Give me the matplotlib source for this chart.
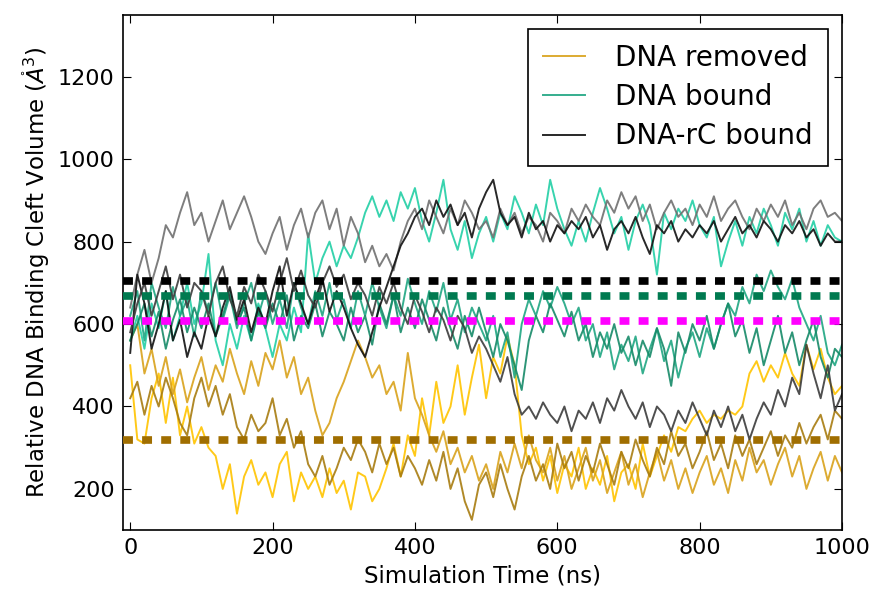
import numpy as np
import matplotlib
matplotlib.use("Agg")
import matplotlib.pyplot as plt

# time axis (ns), one sample every 10 ns
time_ns = np.arange(0, 1001, 10)

# DNA removed replicas
removed_yellow = [
    500, 320, 310, 420, 480, 360, 470, 330, 400, 310,
    350, 300, 280, 200, 260, 140, 230, 270, 210, 240,
    180, 260, 290, 170, 240, 200, 230, 180, 250, 190,
    220, 150, 240, 230, 170, 200, 250, 310, 230, 330,
    280, 420, 330, 460, 360, 400, 500, 380, 470, 550,
    420, 520, 480, 570, 500, 330, 260, 300, 220, 280,
    190, 260, 230, 300, 200, 250, 210, 280, 170, 240,
    260, 200, 310, 230, 280, 330, 290, 350, 340, 370,
    390, 360, 380, 370, 390, 380, 400, 480, 510, 460,
    500, 470, 530, 480, 450, 550, 490, 540, 470, 430, 450]
removed_gold = [
    560, 600, 480, 540, 450, 520, 430, 490, 410, 470,
    520, 440, 500, 460, 540, 480, 430, 510, 450, 530,
    490, 560, 470, 520, 430, 470, 390, 330, 360, 420,
    460, 510, 560, 520, 470, 500, 430, 460, 390, 530,
    420, 380, 330, 290, 340, 260, 300, 240, 280, 220,
    260, 200, 290, 240, 310, 250, 330, 270, 240, 300,
    220, 280, 200, 250, 300, 220, 270, 190, 240, 290,
    210, 260, 180, 240, 290, 220, 270, 200, 250, 190,
    240, 280, 210, 250, 190, 270, 220, 300, 240, 270,
    210, 260, 300, 230, 280, 200, 250, 290, 220, 280, 240]
removed_brown = [
    420, 460, 380, 450, 400, 470, 420, 360, 330, 420,
    470, 400, 450, 380, 430, 350, 320, 380, 340, 360,
    420, 330, 370, 300, 340, 260, 230, 280, 210, 250,
    300, 270, 320, 290, 240, 310, 260, 300, 230, 280,
    250, 210, 270, 220, 290, 200, 250, 170, 125, 210,
    240, 180, 260, 200, 150, 230, 280, 220, 260, 200,
    310, 250, 290, 220, 280, 240, 310, 260, 210, 290,
    250, 320, 270, 230, 300, 260, 340, 280, 310, 250,
    290, 340, 270, 310, 250, 330, 280, 320, 260, 300,
    340, 280, 330, 300, 360, 310, 350, 380, 320, 390, 370]

# DNA bound replicas
bound_turq = [
    560, 620, 540, 650, 590, 680, 560, 620, 700, 600,
    650, 770, 560, 500, 600, 540, 620, 560, 650, 590,
    520, 600, 560, 640, 580, 820, 700, 760, 800, 740,
    790, 760, 810, 870, 910, 860, 900, 850, 920, 880,
    930, 850, 800, 870, 950, 830, 780, 850, 760, 820,
    860, 800, 870, 830, 910, 870, 820, 890, 840, 950,
    880, 830, 790, 850, 800, 870, 930, 880, 820, 860,
    780, 850, 890, 840, 720, 870, 830, 880, 850, 900,
    840, 810, 860, 740, 800, 850, 790, 860, 820, 880,
    840, 790, 870, 830, 880, 800, 850, 790, 840, 810, 800]
bound_teal = [
    620, 680, 560, 700, 640, 590, 690, 620, 660, 570,
    680, 630, 700, 610, 670, 590, 650, 700, 620, 680,
    600, 660, 590, 700, 640, 600, 680, 620, 700, 610,
    660, 590, 680, 620, 700, 640, 590, 670, 620, 710,
    650, 600, 680, 630, 700, 610, 660, 580, 640, 600,
    560, 620, 520, 580, 470, 600, 660, 620, 680, 640,
    690, 650, 600, 640, 560, 600, 520, 580, 490, 550,
    510, 570, 480, 540, 590, 510, 560, 470, 540, 580,
    520, 590, 540, 600, 650, 620, 690, 650, 720, 680,
    730, 690, 660, 710, 640, 600, 560, 620, 530, 500, 550]
bound_dark = [
    560, 600, 650, 570, 630, 540, 610, 660, 580, 640,
    590, 650, 570, 620, 680, 600, 640, 560, 630, 590,
    650, 600, 670, 560, 620, 590, 650, 570, 630, 600,
    560, 640, 580, 620, 550, 650, 600, 670, 580, 640,
    590, 660, 610, 560, 640, 590, 540, 620, 570, 640,
    580, 520, 600, 560, 500, 440, 560, 620, 580, 650,
    610, 570, 630, 560, 600, 520, 580, 540, 600, 530,
    570, 500, 560, 520, 590, 540, 450, 580, 530, 600,
    560, 620, 540, 600, 650, 570, 610, 530, 590, 500,
    560, 620, 530, 580, 500, 560, 610, 520, 470, 540, 520]

# DNA-rC bound replicas
rc_gray = [
    640, 720, 780, 700, 760, 840, 810, 870, 920, 840,
    870, 800, 850, 900, 830, 870, 910, 860, 800, 770,
    820, 860, 780, 840, 880, 810, 870, 900, 830, 880,
    790, 860, 820, 750, 790, 740, 770, 730, 800, 850,
    880, 830, 900, 860, 820, 880, 840, 900, 870, 830,
    850, 810, 880, 840, 870, 820, 860, 840, 800, 870,
    850, 820, 880, 850, 890, 860, 840, 900, 870, 920,
    880, 910, 850, 890, 830, 870, 900, 860, 880, 840,
    890, 860, 910, 850, 880, 900, 860, 830, 880, 850,
    890, 860, 900, 840, 870, 830, 880, 900, 860, 870, 850]
rc_black = [
    530, 720, 650, 540, 600, 680, 560, 610, 520, 580,
    540, 620, 570, 640, 690, 610, 660, 580, 640, 600,
    680, 740, 620, 700, 650, 600, 660, 710, 630, 680,
    640, 590, 550, 520, 580, 640, 690, 740, 790, 820,
    860, 880, 840, 900, 860, 890, 840, 870, 810, 880,
    920, 950, 870, 840, 860, 810, 870, 830, 850, 800,
    840, 820, 850, 830, 860, 810, 840, 780, 830, 850,
    820, 860, 810, 770, 840, 820, 850, 800, 830, 810,
    840, 820, 850, 800, 830, 860, 820, 840, 810, 850,
    830, 800, 840, 820, 850, 810, 830, 790, 820, 800, 800]
rc_dark = [
    580, 650, 700, 620, 680, 740, 660, 720, 640, 700,
    680, 620, 700, 740, 660, 620, 690, 650, 720, 680,
    630, 700, 760, 680, 730, 670, 640, 700, 740, 690,
    720, 660, 700, 670, 620, 690, 650, 700, 640, 600,
    670, 630, 580, 640, 610, 560, 620, 590, 530, 570,
    540, 500, 460, 520, 430, 380, 400, 370, 410, 380,
    360, 400, 340, 390, 370, 410, 360, 420, 390, 440,
    400, 370, 410, 350, 400, 380, 340, 390, 360, 410,
    370, 330, 390, 350, 400, 340, 380, 320, 370, 410,
    380, 440, 400, 470, 430, 550, 480, 420, 500, 390, 430]

# average volumes (dashed reference lines)
avg_values = [705, 668, 608, 318]
avg_colors = ["#000000", "#007a50", "#ff00ff", "#a06e00"]

series = [
    (removed_yellow, "#ffc400", None),
    (removed_gold, "#d9a21b", "DNA removed"),
    (removed_brown, "#a87c10", None),
    (bound_turq, "#22cfa5", None),
    (bound_teal, "#1fa682", "DNA bound"),
    (bound_dark, "#168a68", None),
    (rc_gray, "#707070", None),
    (rc_black, "#111111", "DNA-rC bound"),
    (rc_dark, "#3c3c3c", None),
]

fig = plt.figure(figsize=(8.73, 5.97), dpi=100)
ax = fig.add_axes([0.141, 0.112, 0.8235, 0.863])

for vals, col, lab in series:
    ax.plot(time_ns, vals, color=col, lw=1.4, alpha=0.9, label=lab)

for v, c in zip(avg_values, avg_colors):
    ax.axhline(v, color=c, lw=5.5, dashes=(1.3, 1.2), zorder=5)

ax.set_xlim(-10, 1000)
ax.set_ylim(100, 1350)
ax.set_xticks([0, 200, 400, 600, 800, 1000])
ax.set_yticks([200, 400, 600, 800, 1000, 1200])
ax.tick_params(direction="in", top=True, right=True, labelsize=16, length=6, pad=6)
for s in ax.spines.values():
    s.set_linewidth(1.2)

ax.set_xlabel("Simulation Time (ns)", fontsize=16.5)
ax.set_ylabel(r"Relative DNA Binding Cleft Volume ($\mathring{A}^3$)", fontsize=16.5)

leg = ax.legend(loc="upper right", fontsize=20, fancybox=False, framealpha=1,
                edgecolor="black", handlelength=1.5, handletextpad=1.1,
                labelspacing=0.4, borderpad=0.55, borderaxespad=0.5)
leg.get_frame().set_linewidth(1.2)

fig.savefig("out.png", dpi=100)
